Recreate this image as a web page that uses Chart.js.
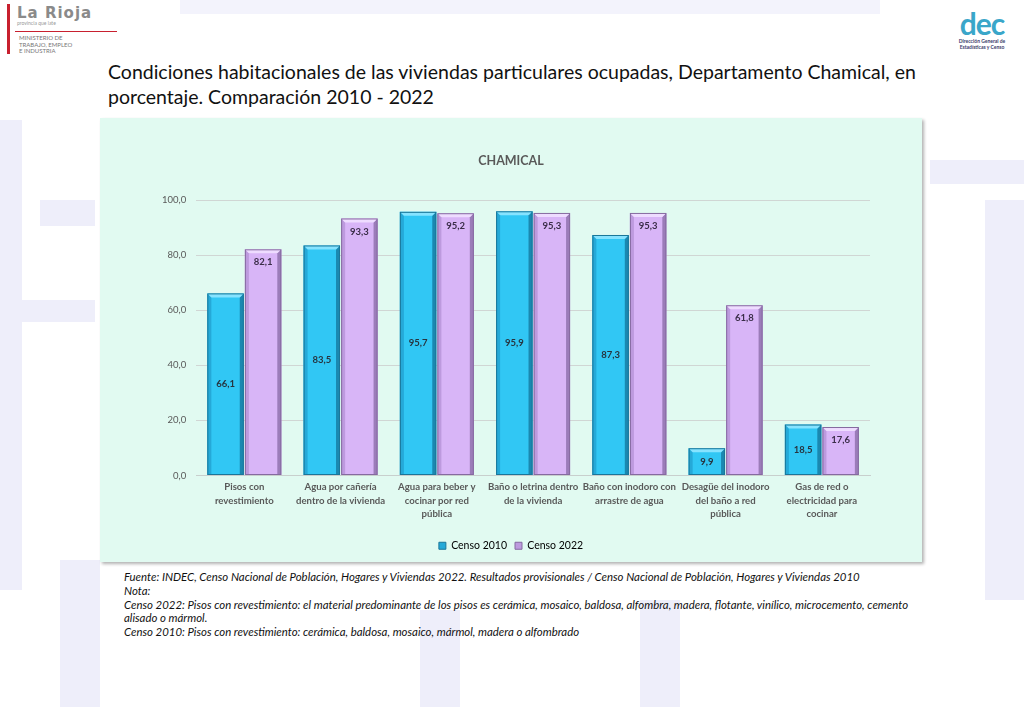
<!DOCTYPE html>
<html lang="es">
<head>
<meta charset="utf-8">
<script src="https://cdn.jsdelivr.net/npm/chart.js@4.4.1/dist/chart.umd.min.js"></script>
<style>
  body { margin: 0; width: 1024px; height: 707px; background: #fff; position: relative; overflow: hidden; font-family: Lato, "Open Sans", sans-serif; }
  .wm { position: absolute; background: #eeeefa; }
  .logo-l { position: absolute; left: 7px; top: 4px; width: 110px; height: 52px; }
  .logo-l .bar { position: absolute; left: 0; top: 0; width: 3px; height: 50px; background: #c8202f; }
  .logo-l .name { position: absolute; left: 10px; top: 0; font: bold 15px "DejaVu Sans", sans-serif; color: #8a8a8a; letter-spacing: 1px; }
  .logo-l .sub { position: absolute; left: 10px; top: 16px; font: 5px Lato; color: #999; }
  .logo-l .line { position: absolute; left: 8px; top: 27px; width: 102px; height: 1px; background: #c8202f; }
  .logo-l .min { position: absolute; left: 12px; top: 31px; font: 6px/6.5px Lato; color: #777; }
  .logo-r { position: absolute; left: 944px; top: 2px; width: 76px; height: 52px; text-align: center; }
  .logo-r .dec { font: bold 30px/30px Lato; color: #3aa6c9; letter-spacing: -1px; margin-top: 6px; }
  .logo-r .txt { font: bold 5px/6px Lato; color: #3a3a6a; }
  .head { position: absolute; left: 108px; top: 59px; font-size: 19.5px; line-height: 25px; color: #111; }
  .box { position: absolute; left: 100px; top: 118px; width: 822px; height: 444px; background: rgba(222,249,240,0.9); box-shadow: 2px 2px 3px rgba(0,0,0,0.3); }
  .foot { position: absolute; left: 124px; top: 570px; width: 880px; font-style: italic; font-size: 11.4px; line-height: 13.8px; color: #111; }
</style>
</head>
<body>
<div class="wm" style="left:0;top:120px;width:22px;height:470px"></div>
<div class="wm" style="left:40px;top:200px;width:55px;height:26px"></div>
<div class="wm" style="left:0;top:300px;width:95px;height:22px"></div>
<div class="wm" style="left:60px;top:560px;width:40px;height:147px"></div>
<div class="wm" style="left:420px;top:610px;width:40px;height:97px"></div>
<div class="wm" style="left:640px;top:600px;width:40px;height:107px"></div>
<div class="wm" style="left:930px;top:160px;width:94px;height:24px"></div>
<div class="wm" style="left:985px;top:200px;width:39px;height:400px"></div>
<div class="wm" style="left:180px;top:0;width:700px;height:14px;background:#f3f3fc"></div>

<div class="logo-l">
  <div class="bar"></div>
  <div class="name">La Rioja</div>
  <div class="sub">provincia que late</div>
  <div class="line"></div>
  <div class="min">MINISTERIO DE<br>TRABAJO, EMPLEO<br>E INDUSTRIA</div>
</div>
<div class="logo-r">
  <div class="dec">dec</div>
  <div class="txt">Dirección General de<br>Estadísticas y Censo</div>
</div>

<div class="head">Condiciones habitacionales de las viviendas particulares ocupadas, Departamento Chamical, en<br>porcentaje. Comparación 2010 - 2022</div>

<div class="box"><canvas id="chamicalChart" width="822" height="444"></canvas></div>

<div class="foot">
Fuente: INDEC, Censo Nacional de Población, Hogares y Viviendas 2022. Resultados provisionales / Censo Nacional de Población, Hogares y Viviendas 2010<br>
Nota:<br>
Censo 2022: Pisos con revestimiento: el material predominante de los pisos es cerámica, mosaico, baldosa, alfombra, madera, flotante, vinílico, microcemento, cemento<br>
alisado o mármol.<br>
Censo 2010: Pisos con revestimiento: cerámica, baldosa, mosaico, mármol, madera o alfombrado
</div>

<script>
// Categories (multi-line labels as in the original)
const categories = [
    ['Pisos con', 'revestimiento'],
    ['Agua por cañería', 'dentro de la vivienda'],
    ['Agua para beber y', 'cocinar por red', 'pública'],
    ['Baño o letrina dentro', 'de la vivienda'],
    ['Baño con inodoro con', 'arrastre de agua'],
    ['Desagüe del inodoro', 'del baño a red', 'pública'],
    ['Gas de red o', 'electricidad para', 'cocinar']
];
const censo2010 = [66.1, 83.5, 95.7, 95.9, 87.3, 9.9, 18.5];
const censo2022 = [82.1, 93.3, 95.2, 95.3, 95.3, 61.8, 17.6];
const yTicks = [0, 20, 40, 60, 80, 100];

const fmt = v => v.toFixed(1).replace('.', ',');

// Shades per series: body, left side, right side, top cap, outline
const shades = [
    { body: '#31c7f4', left: '#25a9d8', right: '#1a88b0', top: '#86e3ff', line: '#1a7699', text: '#27343f' },
    { body: '#d8b5f7', left: '#bd9ade', right: '#9b7cb9', top: '#eedcff', line: '#856aa0', text: '#3a2d48' }
];

// 1. Bevelled 3D look drawn over each bar
const bevelBars = {
    id: 'bevelBars',
    afterDatasetsDraw(chart) {
        const ctx = chart.ctx;
        chart.data.datasets.forEach((ds, di) => {
            const pal = shades[di];
            chart.getDatasetMeta(di).data.forEach(bar => {
                const { x, y, base, width } = bar.getProps(['x', 'y', 'base', 'width'], true);
                const l = x - width / 2, r = x + width / 2;
                const e = Math.min(4, (base - y) / 3);
                ctx.save();
                ctx.fillStyle = pal.left;
                ctx.beginPath();
                ctx.moveTo(l, y); ctx.lineTo(l + e, y + e); ctx.lineTo(l + e, base); ctx.lineTo(l, base);
                ctx.fill();
                ctx.fillStyle = pal.right;
                ctx.beginPath();
                ctx.moveTo(r, y); ctx.lineTo(r - e, y + e); ctx.lineTo(r - e, base); ctx.lineTo(r, base);
                ctx.fill();
                ctx.fillStyle = pal.top;
                ctx.beginPath();
                ctx.moveTo(l, y); ctx.lineTo(r, y); ctx.lineTo(r - e, y + e); ctx.lineTo(l + e, y + e);
                ctx.fill();
                ctx.strokeStyle = pal.line;
                ctx.lineWidth = 1;
                ctx.strokeRect(l + 0.5, y + 0.5, width - 1, base - y - 1);
                ctx.restore();
            });
        });
    }
};

// 2. Value labels: 2010 centred, 2022 at inside end
const valueLabels = {
    id: 'valueLabels',
    afterDatasetsDraw(chart) {
        const ctx = chart.ctx;
        ctx.save();
        ctx.font = 'bold 9.5px Lato';
        ctx.textAlign = 'center';
        ctx.textBaseline = 'middle';
        chart.data.datasets.forEach((ds, di) => {
            ctx.fillStyle = shades[di].text;
            chart.getDatasetMeta(di).data.forEach((bar, i) => {
                const { x, y, base } = bar.getProps(['x', 'y', 'base'], true);
                const ty = di === 0 ? (y + base) / 2 : y + 13;
                ctx.fillText(fmt(ds.data[i]), x, ty);
            });
        });
        ctx.restore();
    }
};

new Chart(document.getElementById('chamicalChart'), {
    type: 'bar',
    data: {
        labels: categories,
        datasets: [
            { label: 'Censo 2010', data: censo2010, backgroundColor: shades[0].body, borderWidth: 0 },
            { label: 'Censo 2022', data: censo2022, backgroundColor: shades[1].body, borderWidth: 0 }
        ]
    },
    options: {
        responsive: false,
        animation: false,
        devicePixelRatio: 1,
        categoryPercentage: 0.78,
        barPercentage: 0.97,
        layout: { padding: { left: 52, right: 52, top: 0, bottom: 1 } },
        plugins: {
            title: {
                display: true,
                text: 'CHAMICAL',
                color: '#595959',
                font: { family: 'Lato', size: 12.5, weight: 'bold' },
                padding: { top: 35, bottom: 32 }
            },
            legend: {
                position: 'bottom',
                labels: {
                    color: '#404040',
                    font: { family: 'Lato', size: 10.5 },
                    boxWidth: 7,
                    boxHeight: 7,
                    padding: 8,
                    generateLabels: chart => chart.data.datasets.map((ds, i) => ({
                        text: ds.label,
                        fillStyle: shades[i].left,
                        strokeStyle: shades[i].line,
                        lineWidth: 1,
                        datasetIndex: i
                    }))
                }
            },
            tooltip: { enabled: false }
        },
        scales: {
            y: {
                min: 0,
                max: 100,
                afterBuildTicks: s => { s.ticks = yTicks.map(v => ({ value: v })); },
                ticks: {
                    color: '#595959',
                    font: { family: 'Lato', size: 9.5 },
                    padding: 10,
                    callback: v => fmt(v)
                },
                grid: { color: '#d0d6d4', drawTicks: false },
                border: { display: false }
            },
            x: {
                ticks: {
                    color: '#595959',
                    font: { family: 'Lato', size: 9.6, weight: 'bold', lineHeight: 1.4 },
                    maxRotation: 0,
                    autoSkip: false,
                    padding: -3
                },
                grid: { display: false },
                border: { color: '#c8cfcd' },
                afterFit: s => { s.height = 57; }
            }
        }
    },
    plugins: [bevelBars, valueLabels]
});
</script>
</body>
</html>
